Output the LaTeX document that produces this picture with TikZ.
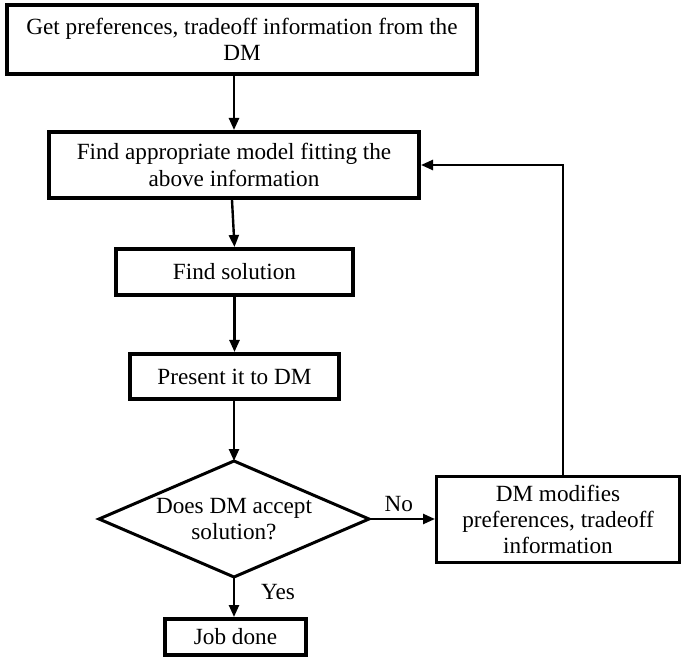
\documentclass[tikz,border=0pt]{standalone}
\usepackage{fontspec}
\setmainfont{Liberation Serif}
\usetikzlibrary{arrows.meta,calc}
\begin{document}
\begin{tikzpicture}[x=1pt,y=-1pt,
  box/.style={draw, line width=3.6pt, align=center, inner sep=0pt,
    font=\fontsize{23.2}{26.2}\selectfont},
  txt/.style={align=center, inner sep=0pt, font=\fontsize{23.2}{26.2}\selectfont},
  arr/.style={line width=2.4pt, -{Triangle[length=12pt,width=10pt]}},
  dline/.style={line width=3pt, line join=miter}]
\useasboundingbox (0,0) rectangle (683,660);
\node[box, minimum width=470.4, minimum height=69.4] (b1) at (242,39.5)
  {Get preferences, tradeoff information from the\\DM};
\node[box, minimum width=370.4, minimum height=66.4] (b2) at (234,165)
  {Find appropriate model fitting the\\above information};
\node[box, minimum width=237.4, minimum height=46.4] (b3) at (234.5,272)
  {Find solution};
\node[box, minimum width=209.4, minimum height=45.4] (b4) at (234.5,376.5)
  {Present it to DM};
\node[box, line width=3pt, minimum width=243, minimum height=86] (rb) at (558,519.5)
  {DM modifies\\preferences, tradeoff\\information};
\node[box, minimum width=141.4, minimum height=36.4] (job) at (235.5,637)
  {Job done};
\coordinate (dtop) at (234,461);
\coordinate (dright) at (369,519);
\coordinate (dbot) at (234,577);
\coordinate (dleft) at (99,519);
\draw[dline] (dtop) -- (dright) -- (dbot) -- (dleft) -- cycle;
\node[txt] (dq) at (234,519) {Does DM accept\\solution?};
\draw[arr] (b1.south -| b2.north) -- (b2.north);
\draw[arr] ($(b2.south)+(-2,0)$) -- (b3.north);
\draw[arr] (b3.south) -- (b4.north);
\draw[arr] (b4.south -| dtop) -- (dtop);
\draw[arr] (dright) -- (dright -| rb.west) node[txt, pos=0.45, above=6pt] (no) {No};
\draw[arr] (dbot) -- (dbot |- job.north);
\node[txt] (yes) at (278,592) {Yes};
\draw[arr] ($(rb.north)+(5,0)$) |- (b2.east);
\end{tikzpicture}
\end{document}
